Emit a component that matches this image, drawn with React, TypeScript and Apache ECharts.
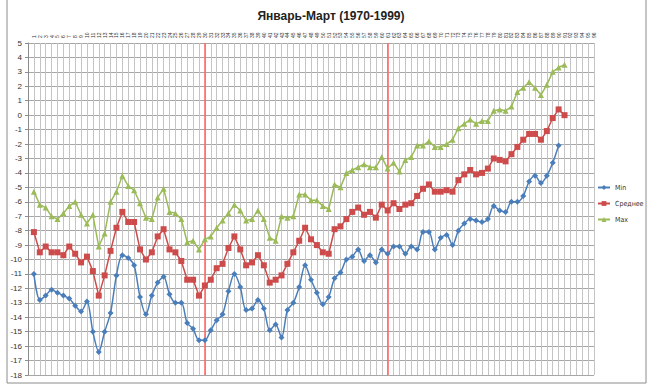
import React, { useEffect, useRef } from "react";
import * as echarts from "echarts";

const title = "Январь-Март (1970-1999)";
const seriesNames = ["Min", "Среднее", "Max"];

const minVals = [
  -11.0, -12.8, -12.5, -12.1, -12.3, -12.5, -12.7, -13.2, -13.6, -12.9,
  -15.0, -16.4, -15.0, -13.7, -11.1, -9.7, -9.9, -10.4, -12.6, -13.8,
  -12.5, -11.6, -11.2, -12.4, -13.0, -13.0, -14.4, -14.8, -15.6, -15.6,
  -14.9, -14.2, -13.8, -12.2, -11.0, -11.9, -13.5, -13.4, -12.8, -13.4,
  -14.9, -14.5, -15.4, -13.5, -13.0, -11.9, -10.4, -11.4, -12.3, -13.1,
  -12.6, -11.3, -10.9, -10.0, -9.8, -9.3, -10.1, -9.7, -10.2, -9.3,
  -9.6, -9.1, -9.1, -9.6, -9.1, -9.3, -8.1, -8.1, -9.3, -8.5,
  -8.3, -9.0, -8.0, -7.5, -7.2, -7.3, -7.4, -7.2, -6.3, -6.6,
  -6.7, -6.0, -6.0, -5.6, -4.6, -4.2, -4.7, -4.2, -3.3, -2.1,
];

const meanVals = [
  -8.1, -9.5, -9.1, -9.5, -9.5, -9.7, -9.1, -9.6, -10.2, -9.8,
  -10.8, -12.5, -11.1, -9.4, -7.8, -6.7, -7.4, -7.4, -9.3, -10.0,
  -9.5, -8.4, -7.9, -9.3, -9.5, -10.1, -11.4, -11.4, -12.5, -11.8,
  -11.4, -10.6, -10.3, -9.2, -8.4, -9.3, -10.4, -10.2, -9.7, -10.4,
  -11.6, -11.4, -11.1, -10.3, -9.5, -8.7, -7.8, -8.6, -9.0, -9.5,
  -9.6, -7.9, -7.7, -7.2, -6.7, -6.4, -6.9, -6.7, -7.1, -6.2,
  -6.6, -6.1, -6.5, -6.2, -6.1, -5.6, -5.1, -4.8, -5.3, -5.3,
  -5.2, -5.3, -4.5, -4.1, -3.8, -4.1, -4.0, -3.7, -3.0, -3.1,
  -3.2, -2.7, -2.2, -1.7, -1.3, -1.3, -1.7, -1.1, -0.2, 0.4, 0.0,
];

const maxVals = [
  -5.3, -6.2, -6.4, -7.0, -7.2, -6.8, -6.3, -6.0, -6.9, -7.5,
  -6.9, -9.1, -8.2, -6.0, -5.3, -4.2, -4.9, -5.2, -6.1, -7.1,
  -7.2, -5.7, -5.1, -6.7, -6.8, -7.2, -8.8, -8.7, -9.3, -8.6,
  -8.4, -7.8, -7.3, -6.8, -6.2, -6.6, -7.3, -7.2, -6.6, -7.2,
  -8.5, -8.7, -7.0, -7.1, -7.0, -5.5, -5.5, -5.9, -5.9, -6.3,
  -6.5, -4.8, -5.0, -4.0, -3.8, -3.6, -3.4, -3.6, -3.6, -2.9,
  -3.7, -3.3, -3.9, -3.1, -2.9, -2.1, -2.1, -1.8, -2.2, -2.2,
  -2.0, -1.7, -0.9, -0.6, -0.3, -0.6, -0.4, -0.4, 0.3, 0.4,
  0.3, 0.6, 1.6, 1.9, 2.3, 1.9, 1.4, 2.1, 3.0, 3.3, 3.5,
];

// category positions (1-based) of the two red marker lines
const monthMarks = [30, 61];
const xMin = 0;
const xMax = 96;
const yMin = -18;
const yMax = 5;

const toPairs = (arr: number[]) => arr.map((v, i) => [i + 1, v]);

export default function App() {
  const ref = useRef<HTMLDivElement>(null);
  useEffect(() => {
    if (!ref.current) return;
    const chart = echarts.init(ref.current, null, { renderer: "svg" });
    const font = "'Liberation Sans', Arial, sans-serif";
    const condensed = "'DejaVu Sans Condensed', 'Liberation Sans', sans-serif";
    chart.setOption({
      animation: false,
      backgroundColor: "#ffffff",
      title: {
        text: title,
        left: 326,
        top: 5,
        textAlign: "center",
        textStyle: { fontSize: 12, fontWeight: "bold", color: "#222", fontFamily: font },
      },
      legend: {
        orient: "vertical",
        left: 597,
        top: 184,
        itemGap: 9,
        itemWidth: 12,
        itemHeight: 6,
        padding: 0,
        textStyle: {
          fontSize: 7,
          color: "#333",
          fontFamily: condensed,
          width: 40,
          overflow: "none",
        },
        data: seriesNames,
      },
      graphic: [
        {
          type: "rect",
          shape: { x: 7, y: -2, width: 639, height: 385 },
          style: { fill: "none", stroke: "#8c8c8c", lineWidth: 1 },
          silent: true,
        },
      ],
      grid: { left: 28, right: 54, top: 43, bottom: 10 },
      xAxis: {
        type: "value",
        position: "top",
        min: xMin,
        max: xMax,
        interval: 1,
        axisLine: { show: false },
        axisTick: { show: false },
        axisLabel: {
          rotate: 90,
          fontSize: 5,
          color: "#333",
          margin: 5,
          formatter: (v: number) => (v === 0 ? "" : String(v)),
        },
        splitLine: { show: true, lineStyle: { color: "#c4c4c4", width: 1 } },
      },
      yAxis: {
        type: "value",
        min: yMin,
        max: yMax,
        interval: 1,
        axisLine: { show: true, lineStyle: { color: "#8c8c8c" } },
        axisTick: { show: true, length: 3, lineStyle: { color: "#8c8c8c" } },
        axisLabel: { fontSize: 8, color: "#333", margin: 6, fontFamily: font },
        splitLine: { show: true, lineStyle: { color: "#a6a6a6", width: 1 } },
      },
      series: [
        {
          name: seriesNames[0],
          type: "line",
          data: toPairs(minVals),
          smooth: 0.3,
          symbol: "diamond",
          symbolSize: 6,
          itemStyle: { color: "#4a7ebb" },
          lineStyle: { color: "#4a7ebb", width: 1.5 },
          z: 3,
        },
        {
          name: seriesNames[1],
          type: "line",
          data: toPairs(meanVals),
          symbol: "rect",
          symbolSize: 6,
          itemStyle: { color: "#cd4b4b" },
          lineStyle: { color: "#cd4b4b", width: 1.5 },
          z: 3,
          markLine: {
            silent: true,
            symbol: "none",
            label: { show: false },
            lineStyle: { color: "#ff6060", type: "solid", width: 1.5 },
            data: monthMarks.map((m) => ({ xAxis: m })),
            z: 2,
          },
        },
        {
          name: seriesNames[2],
          type: "line",
          data: toPairs(maxVals),
          symbol: "triangle",
          symbolSize: 6,
          itemStyle: { color: "#9bbb59" },
          lineStyle: { color: "#9bbb59", width: 1.5 },
          z: 3,
        },
      ],
    });
    return () => chart.dispose();
  }, []);
  return (
    <div
      ref={ref}
      style={{ position: "fixed", left: 0, top: 0, width: 648, height: 385 }}
    />
  );
}
